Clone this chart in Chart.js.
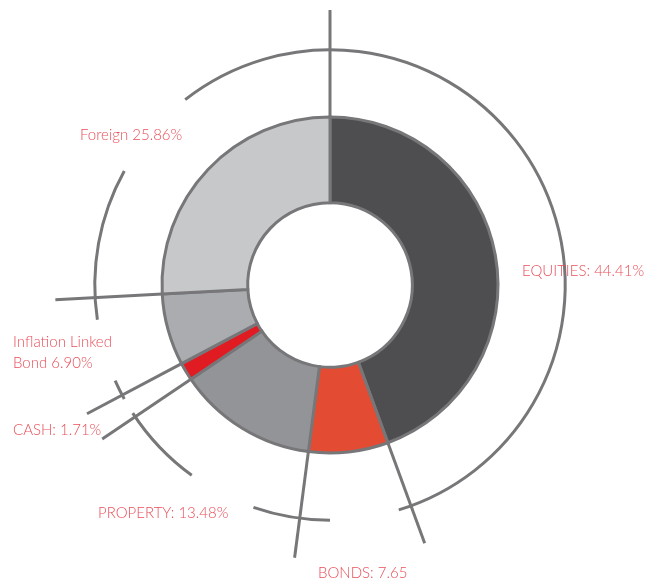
<!DOCTYPE html>
<html>
<head>
<meta charset="utf-8">
<script src="https://cdn.jsdelivr.net/npm/chart.js@4/dist/chart.umd.min.js"></script>
<style>
  html, body { margin: 0; padding: 0; background: #fff; }
  #wrap { width: 657px; height: 579px; }
</style>
</head>
<body>
<div id="wrap"><canvas id="allocation-chart"></canvas></div>
<script>
const categories = ['EQUITIES', 'BONDS', 'PROPERTY', 'CASH', 'Inflation Linked Bond', 'Foreign']
const allocation = [44.41, 7.65, 13.48, 1.71, 6.90, 25.86]
const labelTexts = [
  ['EQUITIES: 44.41%'],
  ['BONDS: 7.65'],
  ['PROPERTY: 13.48%'],
  ['CASH: 1.71%'],
  ['Inflation Linked', 'Bond 6.90%'],
  ['Foreign 25.86%']
]
const sliceColors = ['#4e4d50', '#e34b33', '#939497', '#e11b22', '#abacaf', '#c7c8ca']

const lineColor = '#77777a'

// decorative outer arcs (degrees clockwise from 12 o'clock)
const ringSpans = [[-38, 163], [180, 199], [216, 237], [241, 246], [261.5, 299]]
// label offsets from chart centre (left x, baseline y)
const labelOffsets = [[192, -9], [-12, 293], [-232, 233], [-317, 150], [-317, 62], [-250, -145]]

const decorPlugin = {
  id: 'decor',
  afterDatasetsDraw (chart) {
    const ctx = chart.ctx
    const arcs = chart.getDatasetMeta(0).data
    if (!arcs.length) return
    const { x, y, outerRadius } = arcs[0]
    const lineR = outerRadius * 1.637
    const ringR = outerRadius * 1.4

    ctx.save()
    ctx.strokeStyle = lineColor
    ctx.lineWidth = 3
    ctx.lineCap = 'butt'

    // radial lines at each slice boundary
    arcs.forEach(arc => {
      const a = arc.startAngle
      ctx.beginPath()
      ctx.moveTo(x + Math.cos(a) * outerRadius, y + Math.sin(a) * outerRadius)
      ctx.lineTo(x + Math.cos(a) * lineR, y + Math.sin(a) * lineR)
      ctx.stroke()
    })

    // outer arcs
    ringSpans.forEach(([s, e]) => {
      ctx.beginPath()
      ctx.arc(x, y, ringR, (s - 90) * Math.PI / 180, (e - 90) * Math.PI / 180)
      ctx.stroke()
    })

    // labels
    ctx.fillStyle = '#e8505a'
    ctx.font = '300 15px Lato'
    ctx.textAlign = 'left'
    ctx.textBaseline = 'alphabetic'
    labelTexts.forEach((lines, i) => {
      const [dx, dy] = labelOffsets[i]
      lines.forEach((t, j) => {
        ctx.fillText(t, x + dx, y + dy + j * 21)
      })
    })
    ctx.restore()
  }
}

const ctx = document.getElementById('allocation-chart').getContext('2d')
new Chart(ctx, {
  type: 'doughnut',
  data: {
    labels: categories,
    datasets: [
      {
        data: allocation,
        backgroundColor: sliceColors,
        borderColor: lineColor,
        borderWidth: 3,
        borderJoinStyle: 'miter'
      }
    ]
  },
  options: {
    responsive: true,
    maintainAspectRatio: false,
    animation: false,
    radius: 168,
    cutout: '49%',
    layout: { padding: { left: 3, right: 0, top: 0, bottom: 9 } },
    plugins: {
      legend: { display: false },
      tooltip: { enabled: false }
    }
  },
  plugins: [decorPlugin]
})
</script>
</body>
</html>
